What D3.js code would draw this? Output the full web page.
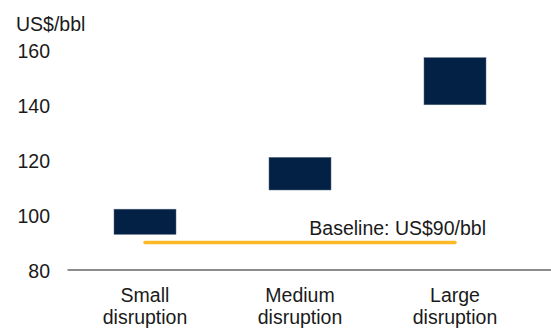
<!DOCTYPE html>
<html>
<head>
<meta charset="utf-8">
<script src="https://cdn.jsdelivr.net/npm/d3@7"></script>
<style>
  html, body { margin: 0; padding: 0; background: #fff; }
  svg { display: block; }
  text { font-family: "Liberation Sans", Arial, sans-serif; fill: #1a1a1a; }
</style>
</head>
<body>
<svg id="chart" width="551" height="329"></svg>
<script>
const categories = [["Small", "disruption"], ["Medium", "disruption"], ["Large", "disruption"]];
const lowValues = [93, 109.2, 140.3];
const highValues = [102.2, 121.1, 157.5];
const baselineValue = 90;
const baselineLabel = "Baseline: US$90/bbl";
const yTicks = [80, 100, 120, 140, 160];
const yUnit = "US$/bbl";

const svg = d3.select("#chart");
const fontSize = 19.5;

const x = d3.scaleBand()
  .domain(categories.map((d, i) => i))
  .range([67.5, 532.5])
  .paddingInner(0.6)
  .paddingOuter(0.3);

const y = d3.scaleLinear().domain([80, 160]).range([270, 50.8]);

// y tick labels
const yAxis = d3.axisLeft(y).tickValues(yTicks).tickSize(0).tickPadding(0);
const gy = svg.append("g").attr("transform", "translate(50,0)").call(yAxis);
gy.select(".domain").remove();
gy.selectAll("text")
  .attr("font-size", fontSize)
  .attr("font-family", "Liberation Sans, Arial, sans-serif")
  .attr("fill", "#1a1a1a")
  .attr("dy", "0.36em");

// unit label
svg.append("text")
  .attr("x", 16)
  .attr("y", 30.5)
  .attr("font-size", fontSize)
  .text(yUnit);

// x axis line
svg.append("line")
  .attr("x1", 67.5).attr("x2", 551)
  .attr("y1", y(80)).attr("y2", y(80))
  .attr("stroke", "#1a1a1a").attr("stroke-width", 1);

// category labels
categories.forEach((lines, i) => {
  const t = svg.append("text")
    .attr("text-anchor", "middle")
    .attr("font-size", fontSize)
    .attr("x", x(i) + x.bandwidth() / 2)
    .attr("y", 301.5);
  lines.forEach((l, j) => {
    t.append("tspan")
      .attr("x", x(i) + x.bandwidth() / 2)
      .attr("dy", j === 0 ? 0 : 22.5)
      .text(l);
  });
});

// floating bars
svg.append("g").selectAll("rect")
  .data(categories.map((c, i) => i))
  .join("rect")
  .attr("x", i => x(i))
  .attr("width", x.bandwidth())
  .attr("y", i => y(highValues[i]))
  .attr("height", i => y(lowValues[i]) - y(highValues[i]))
  .attr("fill", "#022145")
  .attr("stroke", "#5a6a80")
  .attr("stroke-width", 0.5);

// baseline
const bx1 = x(0) + x.bandwidth() / 2;
const bx2 = x(2) + x.bandwidth() / 2;
svg.append("line")
  .attr("x1", bx1).attr("x2", bx2)
  .attr("y1", y(baselineValue)).attr("y2", y(baselineValue))
  .attr("stroke", "#FBB827")
  .attr("stroke-width", 3.5)
  .attr("stroke-linecap", "round");

svg.append("text")
  .attr("x", x(2) + x.bandwidth())
  .attr("y", 235)
  .attr("text-anchor", "end")
  .attr("font-size", fontSize)
  .text(baselineLabel);
</script>
</body>
</html>
